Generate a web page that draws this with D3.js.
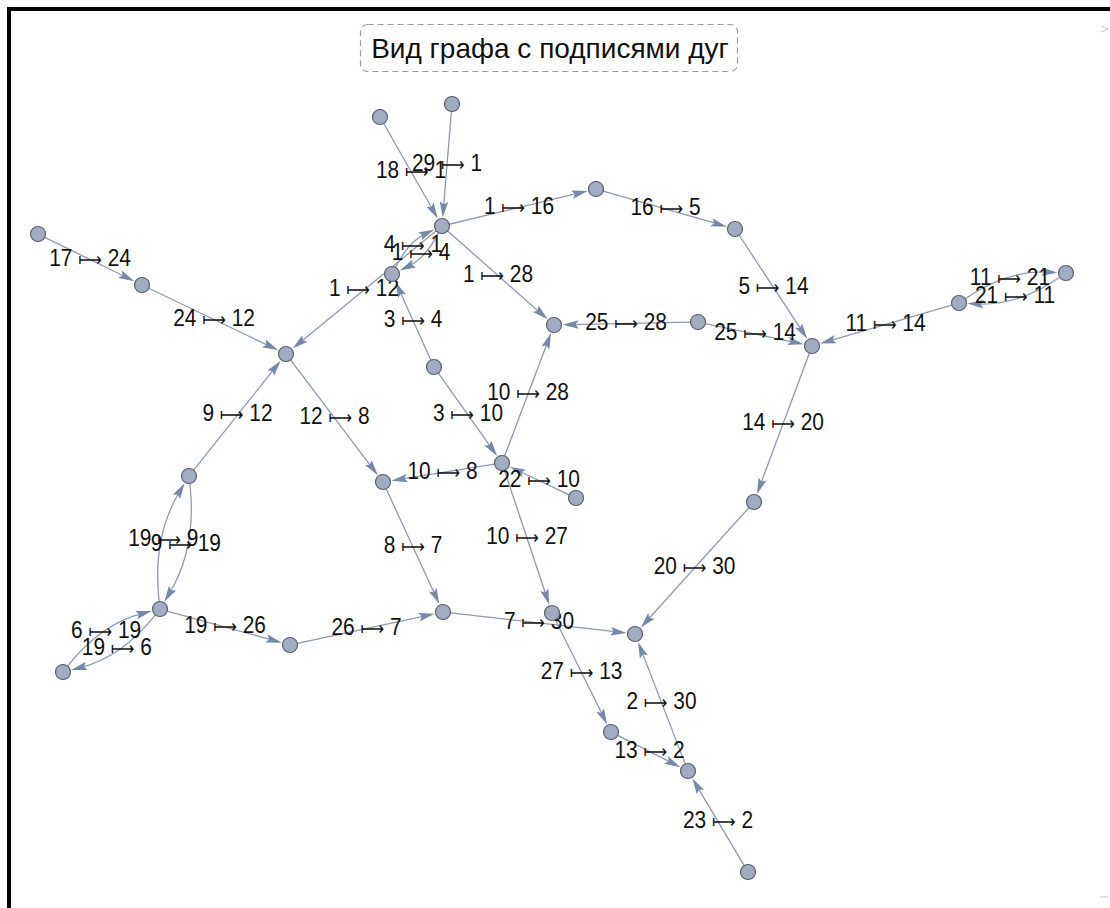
<!DOCTYPE html>
<html><head><meta charset="utf-8">
<script src="https://cdn.jsdelivr.net/npm/d3@7"></script>
<style>html,body{margin:0;padding:0;background:#fff;} svg{display:block}</style>
</head><body>
<script>
// ---- data ----
const titleText = "Вид графа с подписями дуг";
const nodeIds = [1,2,3,4,5,6,7,8,9,10,11,12,13,14,16,17,18,19,20,21,22,23,24,25,26,27,28,29,30];
// layout coordinates (graph layout units, y upward)
const nodeX = [4.42,6.88,4.34,3.92,7.35,0.63,4.43,3.83,1.89,5.02,9.59,2.86,6.11,8.12,5.96,0.38,3.80,1.60,7.54,10.66,5.76,7.48,1.42,6.98,2.90,5.52,5.54,4.52,6.35];
const nodeY = [6.82,1.37,5.41,6.34,6.79,2.36,2.96,4.26,4.32,4.45,6.05,5.54,1.76,5.62,7.19,6.74,7.91,2.99,4.06,6.35,4.10,0.36,6.23,5.86,2.63,2.95,5.83,8.04,2.74];
const edgeFrom = [18,29,1,16,5,11,11,21,25,25,1,4,1,1,3,17,24,9,12,3,10,10,22,10,14,20,19,9,6,19,19,26,8,7,27,2,13,23];
const edgeTo   = [1, 1, 16,5, 14,14,21,11,28,14,28,1,4,12,4,24,12,12,8, 10,28,8, 10,27,20,30,9, 19,19,6, 26,7, 7,30,13,30,2, 2];

// ---- drawing ----
const W = 1110, H = 908;
const svg = d3.select("body").append("svg").attr("width", W).attr("height", H);
svg.append("rect").attr("width", W).attr("height", H).attr("fill", "#fff");

const x = d3.scaleLinear().domain([0, 11.10]).range([0, W]);
const y = d3.scaleLinear().domain([0, 9.08]).range([H, 0]);

// frame (top and left)
svg.append("rect").attr("x", 7).attr("y", 7).attr("width", W - 7).attr("height", 4).attr("fill", "#000");
svg.append("rect").attr("x", 7).attr("y", 7).attr("width", 4).attr("height", H - 7).attr("fill", "#000");
// small resize marks on the right
svg.append("path").attr("d", "M1101,26 L1108,29 L1101,32").attr("fill", "none").attr("stroke", "#c8c8c8").attr("stroke-width", 1);
svg.append("path").attr("d", "M1100,897 L1108,897").attr("fill", "none").attr("stroke", "#c8c8c8").attr("stroke-width", 1);

// title box
const tb = svg.append("g");
tb.append("rect").attr("x", 360.5).attr("y", 24.5).attr("width", 377).attr("height", 47).attr("rx", 7)
  .attr("fill", "#fff").attr("stroke", "#9a9a9a").attr("stroke-width", 1.2).attr("stroke-dasharray", "6,4");
tb.append("text").attr("x", 550).attr("y", 57.5).attr("text-anchor", "middle")
  .attr("font-family", "'Liberation Sans', Arial, sans-serif").attr("font-size", 28).attr("fill", "#111")
  .text(titleText);

const pos = new Map(nodeIds.map((id, i) => [id, {id, px: x(nodeX[i]), py: y(nodeY[i])}]));
const edges = edgeFrom.map((s, i) => ({s, t: edgeTo[i]}));
const key = (a, b) => a + "-" + b;
const edgeSet = new Set(edges.map(e => key(e.s, e.t)));

const R = 7.5;
const AL = 16, AW = 8.5;
edges.forEach(e => {
  const a = pos.get(e.s), b = pos.get(e.t);
  const dx = b.px - a.px, dy = b.py - a.py, L = Math.hypot(dx, dy);
  const curved = edgeSet.has(key(e.t, e.s));
  let cx = (a.px + b.px) / 2, cy = (a.py + b.py) / 2;
  if (curved) {
    const nx = dy / L, ny = -dx / L; // visual left of travel direction
    const off = 0.17 * L;
    cx += nx * off; cy += ny * off;
  }
  let sx = cx - a.px, sy = cy - a.py; let sl = Math.hypot(sx, sy); sx /= sl; sy /= sl;
  let ex = b.px - cx, ey = b.py - cy; let el = Math.hypot(ex, ey); ex /= el; ey /= el;
  const p0 = [a.px + sx * R, a.py + sy * R];
  const tip = [b.px - ex * (R + 1), b.py - ey * (R + 1)];
  e.p0 = p0; e.tip = tip; e.c = [cx, cy]; e.ex = ex; e.ey = ey; e.curved = curved;
  e.lx = 0.25 * a.px + 0.5 * cx + 0.25 * b.px;
  e.ly = 0.25 * a.py + 0.5 * cy + 0.25 * b.py;
});

const gEdges = svg.append("g");
gEdges.selectAll("path.edge").data(edges).join("path")
  .attr("class", "edge")
  .attr("d", e => {
    const end = [e.tip[0] - e.ex * AL * 0.6, e.tip[1] - e.ey * AL * 0.6];
    return e.curved
      ? `M${e.p0[0]},${e.p0[1]} Q${e.c[0]},${e.c[1]} ${end[0]},${end[1]}`
      : `M${e.p0[0]},${e.p0[1]} L${end[0]},${end[1]}`;
  })
  .attr("fill", "none").attr("stroke", "#8d99b1").attr("stroke-width", 1.3);

gEdges.selectAll("path.head").data(edges).join("path")
  .attr("class", "head")
  .attr("d", `M0,0 L${-AL},${-AW / 2} L${-AL * 0.82},0 L${-AL},${AW / 2} Z`)
  .attr("transform", e => `translate(${e.tip[0]},${e.tip[1]}) rotate(${Math.atan2(e.ey, e.ex) * 180 / Math.PI})`)
  .attr("fill", "#7787a6");

const gLabels = svg.append("g")
  .attr("font-family", "'Liberation Sans', Arial, sans-serif").attr("font-size", 24).attr("fill", "#111");
const lab = gLabels.selectAll("text").data(edges).join("text")
  .attr("transform", e => `translate(${e.lx},${e.ly}) scale(0.87,1)`)
  .attr("dy", "0.25em").attr("text-anchor", "middle");
lab.append("tspan").text(e => e.s + " ");
lab.append("tspan").attr("font-family", "'DejaVu Sans'").attr("font-size", 19).text("⟼");
lab.append("tspan").text(e => " " + e.t);

const gNodes = svg.append("g");
gNodes.selectAll("circle").data(nodeIds.map(id => pos.get(id))).join("circle")
  .attr("cx", d => d.px).attr("cy", d => d.py).attr("r", R)
  .attr("fill", "#a2acc1").attr("stroke", "#5b5f6c").attr("stroke-width", 1.2);
</script>
</body></html>
